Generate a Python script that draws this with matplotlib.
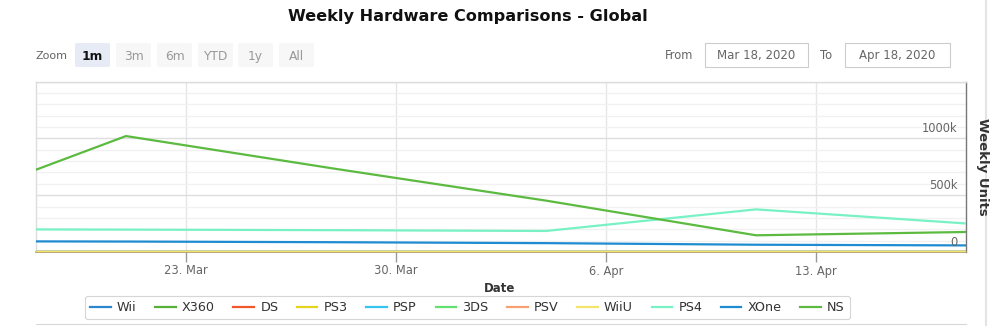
import matplotlib
matplotlib.use("Agg")
import matplotlib.pyplot as plt
import matplotlib.dates as mdates
from matplotlib.patches import FancyBboxPatch, Rectangle
from matplotlib.lines import Line2D
from matplotlib.ticker import FixedLocator, MultipleLocator
from matplotlib.transforms import offset_copy
import datetime as dt

plt.rcParams['font.family'] = ['DejaVu Sans']

# ---------------- data ----------------
dates = ["2020-03-14", "2020-03-21", "2020-03-28", "2020-04-04", "2020-04-11", "2020-04-18"]
series_names = ["Wii", "X360", "DS", "PS3", "PSP", "3DS", "PSV", "WiiU", "PS4", "XOne", "NS"]
wii = [0, 0, 0, 0, 0, 0]
x360 = [0, 0, 0, 0, 0, 0]
ds = [0, 0, 0, 0, 0, 0]
ps3 = [0, 0, 0, 0, 0, 0]
psp = [0, 0, 0, 0, 0, 0]
n3ds = [0, 0, 0, 0, 0, 0]
psv = [0, 0, 0, 0, 0, 0]
wiiu = [0, 0, 0, 0, 0, 0]
ps4 = [201000, 197000, 192000, 185000, 375000, 251000]
xone = [95000, 92000, 86000, 78000, 64000, 58000]
ns = [329000, 1020000, 731000, 452000, 147000, 176000]
series_values = [wii, x360, ds, ps3, psp, n3ds, psv, wiiu, ps4, xone, ns]
series_colors = ["#2a86cf", "#55b035", "#f0582a", "#e3d51c", "#35c4ee", "#62e070",
                 "#f7a071", "#f4e46c", "#78f2c4", "#1f8bd0", "#5cba40"]
y_ticks = [0, 500000, 1000000]
y_tick_labels = ["0", "500k", "1000k"]
x_ticks = ["2020-03-23", "2020-03-30", "2020-04-06", "2020-04-13"]
x_tick_labels = ["23. Mar", "30. Mar", "6. Apr", "13. Apr"]
range_buttons = ["1m", "3m", "6m", "YTD", "1y", "All"]
date_from = "Mar 18, 2020"
date_to = "Apr 18, 2020"
x_start = "2020-03-18"
x_end = "2020-04-18"

# ---------------- figure ----------------
W, H = 990, 326
fig = plt.figure(figsize=(W / 100, H / 100), dpi=100)
fig.patch.set_facecolor("white")


def fx(x):
    return x / W


def fy(y):
    return 1 - y / H


def d(s):
    return dt.datetime.strptime(s, "%Y-%m-%d")


# plot area
left, right, top, bottom = 36, 966, 81.5, 252
ax = fig.add_axes([fx(left), fy(bottom), (right - left) / W, (bottom - top) / H])
ax.set_facecolor("white")

xs = [d(s) for s in dates]
for name, vals, col in zip(series_names, series_values, series_colors):
    ax.plot(xs, vals, color=col, lw=1.6, label=name, solid_capstyle="round", zorder=3)

ax.set_xlim(d(x_start), d(x_end))
ax.set_ylim(0, 1500000)

# gridlines
ax.yaxis.set_major_locator(FixedLocator(y_ticks + [1500000]))
ax.yaxis.set_minor_locator(MultipleLocator(100000))
ax.grid(True, which="major", axis="y", color="#dedede", lw=1.0, zorder=0)
ax.grid(True, which="minor", axis="y", color="#f1f1f1", lw=1.0, zorder=0)
ax.xaxis.set_major_locator(FixedLocator([mdates.date2num(d(s)) for s in x_ticks]))
ax.set_xticklabels(x_tick_labels)
ax.grid(True, which="major", axis="x", color="#e6e6e6", lw=1.0, zorder=0)

ax.tick_params(axis="y", which="both", left=False, right=False, labelleft=False, labelright=False)
ax.tick_params(axis="x", which="major", direction="out", length=7.5, width=1, color="#999999",
               labelsize=8.3, labelcolor="#666666", pad=1.5)

# y tick labels inside plot, on the right, above gridlines
ytr = offset_copy(ax.get_yaxis_transform(), fig=fig, x=-6, y=2.5, units="points")
for v, lab in zip(y_ticks, y_tick_labels):
    ax.text(1.0, v, lab, transform=ytr, ha="right", va="bottom", fontsize=8.3,
            color="#666666")

for s in ["left", "top"]:
    ax.spines[s].set_color("#dddddd")
    ax.spines[s].set_linewidth(1)
ax.spines["right"].set_color("#777777")
ax.spines["right"].set_linewidth(1)
ax.spines["bottom"].set_color("#b09a60")
ax.spines["bottom"].set_linewidth(1.2)

# axis titles
fig.text(fx(500), fy(289), "Date", ha="center", va="center", fontsize=8.5, fontweight="bold",
         color="#333333")
fig.text(fx(982), fy(167), "Weekly Units", ha="center", va="center", fontsize=9.5,
         fontweight="bold", rotation=270, color="#333333")

# title
fig.text(fx(468), fy(16), "Weekly Hardware Comparisons - Global", ha="center", va="center",
         fontsize=11.6, fontweight="bold", color="#111111")

# range selector
fig.text(fx(35), fy(55), "Zoom", ha="left", va="center_baseline", fontsize=8, color="#666666")
bx = [75, 116, 157, 198, 238, 279]
for i, (x0, lab) in enumerate(zip(bx, range_buttons)):
    fc = "#e6ebf5" if i == 0 else "#f7f7f7"
    fig.patches.append(FancyBboxPatch((fx(x0), fy(67)), 35 / W, 24 / H,
                                      boxstyle="round,pad=0,rounding_size=0.003",
                                      transform=fig.transFigure, facecolor=fc,
                                      edgecolor="none", zorder=1))
    fig.text(fx(x0 + 17.5), fy(55), lab, ha="center", va="center_baseline", fontsize=8.8,
             fontweight="bold" if i == 0 else "normal",
             color="#111111" if i == 0 else "#999999")

# date inputs
fig.text(fx(665), fy(54), "From", ha="left", va="center_baseline", fontsize=8.3, color="#666666")
fig.text(fx(820), fy(54), "To", ha="left", va="center_baseline", fontsize=8.3, color="#666666")
for x0, x1, txt in [(705, 808, date_from), (845, 950, date_to)]:
    fig.patches.append(Rectangle((fx(x0), fy(67)), (x1 - x0) / W, 24 / H,
                                 transform=fig.transFigure, facecolor="white",
                                 edgecolor="#cccccc", lw=0.8))
    fig.text(fx((x0 + x1) / 2), fy(54), txt, ha="center", va="center_baseline", fontsize=8.5,
             color="#666666")

# right container border and navigator edge
fig.add_artist(Line2D([fx(986), fx(986)], [0, 1], transform=fig.transFigure,
                      color="#e4e4e4", lw=1.5))
fig.add_artist(Line2D([fx(36), fx(966)], [fy(324), fy(324)], transform=fig.transFigure,
                      color="#d8d8d8", lw=0.8))

# legend
handles = [Line2D([0], [0], color=c, lw=1.6) for c in series_colors]
leg = fig.legend(handles, series_names, loc="center", bbox_to_anchor=(fx(467.5), fy(307.5)),
                 ncol=len(series_names), fontsize=9.2, frameon=True, handlelength=1.6,
                 handletextpad=0.5, columnspacing=1.45, borderpad=0.4, fancybox=True)
leg.get_frame().set_edgecolor("#cccccc")
leg.get_frame().set_linewidth(0.8)
for t in leg.get_texts():
    t.set_color("#333333")

fig.savefig("out.png", dpi=100, facecolor="white")
